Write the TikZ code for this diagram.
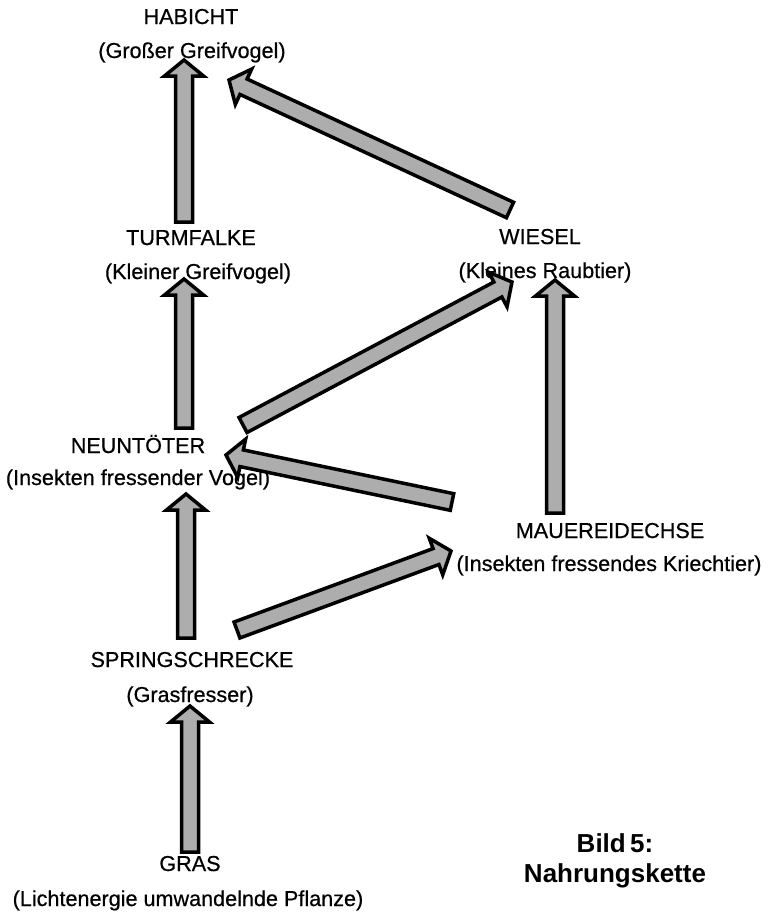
\documentclass[tikz,border=0pt]{standalone}
\usepackage{fontspec}
\setmainfont{Liberation Sans}
\newfontfamily\scanfont[FakeBold=0.6]{Liberation Sans}
\usetikzlibrary{calc}
\tikzset{
  lbl/.style={anchor=base, inner sep=0pt, font=\scanfont\fontsize{21.6}{26}\selectfont},
  captiontext/.style={anchor=base, inner sep=0pt, font=\fontsize{26}{30}\selectfont\bfseries},
  fatarrow/.style={draw=black, line width=3.5pt, fill=black!32, line join=miter, miter limit=10},
}
% fat arrow from coordinate #1 to coordinate #2
\newcommand{\fatarrowpath}[2]{%
  \path[fatarrow] let \p1=(#1), \p2=(#2), \n1={atan2(\y2-\y1,\x2-\x1)} in
    ($(\p1)+(\n1+90:8.5pt)$) --
    ($(\p2)+(\n1+180:16pt)+(\n1+90:8.5pt)$) --
    ($(\p2)+(\n1+180:16pt)+(\n1+90:19.5pt)$) --
    (\p2) --
    ($(\p2)+(\n1+180:16pt)+(\n1-90:19.5pt)$) --
    ($(\p2)+(\n1+180:16pt)+(\n1-90:8.5pt)$) --
    ($(\p1)+(\n1-90:8.5pt)$) -- cycle;}
\begin{document}
\begin{tikzpicture}[x=1pt,y=-1pt]
\useasboundingbox (0,0) rectangle (776,913);
% labels
\node[lbl] (habicht) at (191,24) {HABICHT};
\node[lbl] (habichtS) at (192,58) {(Großer Greifvogel)};
\node[lbl] (turm) at (191,245) {TURMFALKE};
\node[lbl] (turmS) at (198,279) {(Kleiner Greifvogel)};
\node[lbl] (wiesel) at (540,244) {WIESEL};
\node[lbl] (wieselS) at (545,278) {(Kleines Raubtier)};
\node[lbl] (neun) at (138,453) {NEUNTÖTER};
\node[lbl] (neunS) at (138,485) {(Insekten fressender Vogel)};
\node[lbl] (mauer) at (610,538) {MAUEREIDECHSE};
\node[lbl] (mauerS) at (609,571) {(Insekten fressendes Kriechtier)};
\node[lbl] (spring) at (192,667) {SPRINGSCHRECKE};
\node[lbl] (springS) at (190,702) {(Grasfresser)};
\node[lbl] (gras) at (190,871) {GRAS};
\node[lbl] (grasS) at (188,906) {(Lichtenergie umwandelnde Pflanze)};
\node[captiontext] (bild) at (615,852) {Bild\,5:};
\node[captiontext] (titel) at (615,882) {Nahrungskette};
% arrow end points
\coordinate (a1s) at (184,222); \coordinate (a1e) at (184,60);
\coordinate (a2s) at (510,210); \coordinate (a2e) at (229,80);
\coordinate (a3s) at (184,428); \coordinate (a3e) at (184,279);
\coordinate (a4s) at (243,425); \coordinate (a4e) at (512,282);
\coordinate (a5s) at (555,513); \coordinate (a5e) at (555,280);
\coordinate (a6s) at (452,502); \coordinate (a6e) at (226,455);
\coordinate (a7s) at (186,638); \coordinate (a7e) at (186,494);
\coordinate (a8s) at (237,630); \coordinate (a8e) at (451,551);
\coordinate (a9s) at (190,852); \coordinate (a9e) at (190,706);
% arrows
\fatarrowpath{a1s}{a1e}
\fatarrowpath{a2s}{a2e}
\fatarrowpath{a3s}{a3e}
\fatarrowpath{a4s}{a4e}
\fatarrowpath{a5s}{a5e}
\fatarrowpath{a6s}{a6e}
\fatarrowpath{a7s}{a7e}
\fatarrowpath{a8s}{a8e}
\fatarrowpath{a9s}{a9e}
\end{tikzpicture}
\end{document}
